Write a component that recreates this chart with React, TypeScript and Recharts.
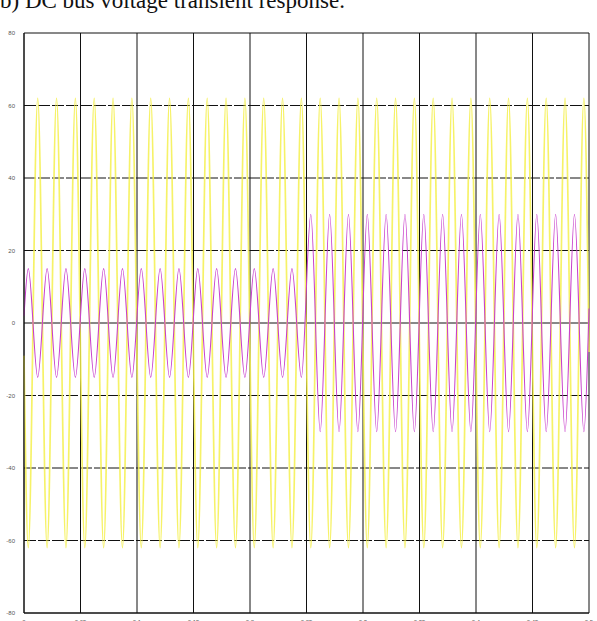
import { LineChart, Line, XAxis, YAxis, CartesianGrid, ReferenceLine } from 'recharts'

// time base: both waves are 60 Hz, first extremum at ~3.8 ms
const firstExtremum = 0.0038
const halfPeriod = 1 / 120

const xTicks = [0, 0.05, 0.1, 0.15, 0.2, 0.25, 0.3, 0.35, 0.4, 0.45, 0.5]
const yTicks = [-80, -60, -40, -20, 0, 20, 40, 60, 80]
const xLabels = ['0', '0.05', '0.1', '0.15', '0.2', '0.25', '0.3', '0.35', '0.4', '0.45', '0.5']

// successive peaks / troughs (V)
const yellowExtrema = [
  -62, 62, -62, 62, -62, 62, -62, 62, -62, 62,
  -62, 62, -62, 62, -62, 62, -62, 62, -62, 62,
  -62, 62, -62, 62, -62, 62, -62, 62, -62, 62,
  -62, 62, -62, 62, -62, 62, -62, 62, -62, 62,
  -62, 62, -62, 62, -62, 62, -62, 62, -62, 62,
  -62, 62, -62, 62, -62, 62, -62, 62, -62, 62,
]
const purpleExtrema = [
  15, -15, 15, -15, 15, -15, 15, -15, 15, -15,
  15, -15, 15, -15, 15, -15, 15, -15, 15, -15,
  15, -15, 15, -15, 15, -15, 15, -15, 15, -15,
  30, -30, 30, -30, 30, -30, 30, -30, 30, -30,
  30, -30, 30, -30, 30, -30, 30, -30, 30, -30,
  30, -30, 30, -30, 30, -30, 30, -30, 30, -30,
]
// values at t = 0 and t = 0.5
const yellowEdges = [-9, -8]
const purpleEdges = [2, 4]

function buildSeries(extrema: number[], edges: number[]) {
  const pts = [{ t: 0, v: edges[0] }]
  extrema.forEach((v, i) => pts.push({ t: firstExtremum + i * halfPeriod, v }))
  pts.push({ t: 0.5, v: edges[1] })
  return pts
}

const yellowData = buildSeries(yellowExtrema, yellowEdges)
const purpleData = buildSeries(purpleExtrema, purpleEdges)

const tickStyle = { fontSize: 6, fill: '#555', fontFamily: 'Liberation Sans, Arial, sans-serif' }

export default function App() {
  return (
    <div style={{ position: 'absolute', left: 0, top: 0, width: 597, height: 621, background: '#fff', overflow: 'hidden' }}>
      <div
        style={{
          position: 'absolute',
          left: 0,
          top: -11,
          fontFamily: '"Liberation Serif", "Times New Roman", serif',
          fontSize: 23,
          lineHeight: '23px',
          color: '#111',
          whiteSpace: 'nowrap',
        }}
      >
        b) DC bus voltage transient response.
      </div>
      <LineChart width={597} height={621} margin={{ top: 33, right: 8, bottom: 0, left: 0 }}>
        <CartesianGrid horizontal={false} stroke="#111" strokeWidth={1} />
        <XAxis
          type="number"
          dataKey="t"
          domain={[0, 0.5]}
          ticks={xTicks}
          tickFormatter={(v, i) => xLabels[i] ?? String(v)}
          tick={tickStyle}
          tickLine={false}
          axisLine={{ stroke: '#111' }}
          height={8}
          tickMargin={1}
          interval={0}
        />
        <YAxis
          type="number"
          domain={[-80, 80]}
          ticks={yTicks}
          tick={tickStyle}
          tickLine={false}
          axisLine={{ stroke: '#111' }}
          width={24}
          tickMargin={3}
          interval={0}
        />
        {yTicks.map((y) => (
          <ReferenceLine
            key={y}
            y={y}
            stroke="#111"
            strokeWidth={1}
            strokeDasharray={y === 0 || Math.abs(y) === 80 ? undefined : '12 2'}
          />
        ))}
        <Line
          data={yellowData}
          dataKey="v"
          type="monotone"
          stroke="#f4f04c"
          strokeWidth={1.7}
          strokeOpacity={0.85}
          dot={false}
          isAnimationActive={false}
        />
        <Line
          data={purpleData}
          dataKey="v"
          type="monotone"
          stroke="#c840cc"
          strokeWidth={1.1}
          dot={false}
          isAnimationActive={false}
        />
      </LineChart>
    </div>
  )
}
